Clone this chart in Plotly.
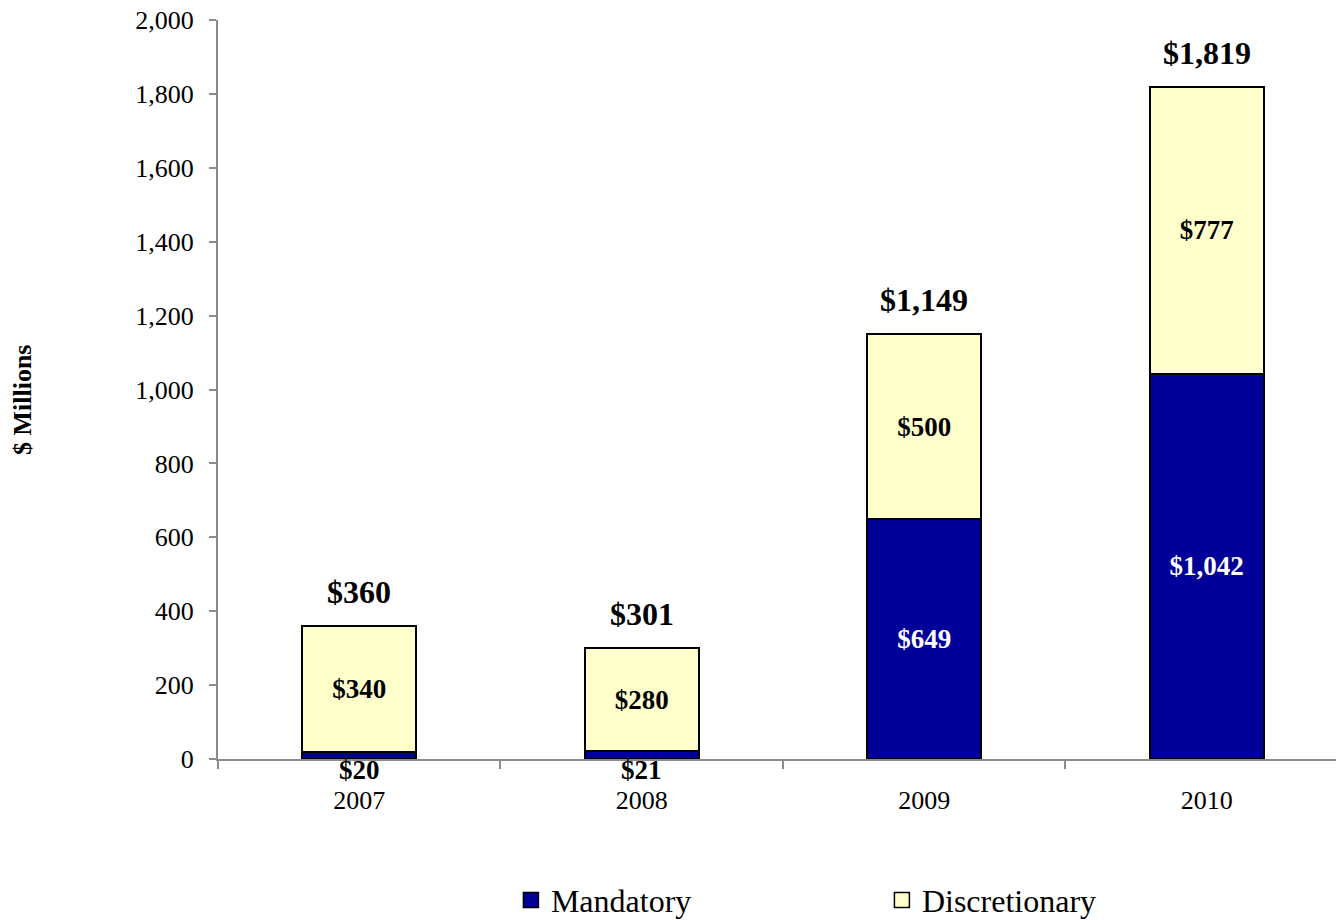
import plotly.graph_objects as go

years = ["2007", "2008", "2009", "2010"]
mandatory = [20, 21, 649, 1042]
discretionary = [340, 280, 500, 777]
totals = [360, 301, 1149, 1819]
y_ticks = [0, 200, 400, 600, 800, 1000, 1200, 1400, 1600, 1800, 2000]

FONT = "Liberation Serif, Times New Roman, serif"
NAVY = "#000099"
CREAM = "#FFFFCC"

def money(v):
    return "$" + format(v, ",")

fig = go.Figure()

fig.add_trace(go.Bar(
    name="Mandatory", x=years, y=mandatory, width=0.404, showlegend=False,
    marker=dict(color=NAVY, line=dict(color="black", width=2)),
    text=[money(v) if v > 100 else "" for v in mandatory],
    textposition="inside", insidetextanchor="middle",
    textfont=dict(family=FONT, size=27, color="white"),
    texttemplate="<b>%{text}</b>",
))
fig.add_trace(go.Bar(
    name="Discretionary", x=years, y=discretionary, width=0.404, showlegend=False,
    marker=dict(color=CREAM, line=dict(color="black", width=2)),
    text=[money(v) for v in discretionary],
    textposition="inside", insidetextanchor="middle",
    textfont=dict(family=FONT, size=27, color="black"),
    texttemplate="<b>%{text}</b>",
))

# legend proxies
for nm, col in [("Mandatory", NAVY), ("Discretionary", CREAM)]:
    fig.add_trace(go.Scatter(
        name=nm, x=[None], y=[None], mode="markers",
        marker=dict(symbol="square", size=15, color=col, line=dict(color="black", width=1.5)),
    ))

for i, m in enumerate(mandatory):
    if m <= 100:
        fig.add_annotation(x=i, y=0, yanchor="top", yshift=6, showarrow=False,
                           text="<b>" + money(m) + "</b>",
                           font=dict(family=FONT, size=27, color="black"))

for i, t in enumerate(totals):
    fig.add_annotation(x=i, y=t, yanchor="bottom", yshift=14, showarrow=False,
                       text="<b>" + money(t) + "</b>",
                       font=dict(family=FONT, size=32, color="black"))

fig.add_annotation(xref="paper", yref="paper", x=-0.189, y=0.486, textangle=-90,
                   showarrow=False, text="<b>$ Millions</b>",
                   font=dict(family=FONT, size=26, color="black"))

fig.update_layout(
    barmode="stack",
    width=1336, height=940,
    margin=dict(l=218, r=0, t=20, b=181),
    plot_bgcolor="white", paper_bgcolor="white",
    font=dict(family=FONT, size=26, color="black"),
    showlegend=True,
    legend=dict(orientation="h", x=0.262, xanchor="left", y=-0.191, yanchor="middle",
                font=dict(family=FONT, size=32, color="black"),
                entrywidth=326, entrywidthmode="pixels", itemwidth=30,
                traceorder="normal"),
    xaxis=dict(type="category", range=[-0.5, 3.458], showline=True, linecolor="#8c8c8c",
               linewidth=2, ticks="outside", tickson="boundaries", ticklen=8,
               tickcolor="#8c8c8c", tickwidth=2, ticklabelstandoff=17, showgrid=False,
               automargin=False, tickfont=dict(family=FONT, size=26)),
    yaxis=dict(range=[0, 2000], tickvals=y_ticks, tickformat=",", showline=True,
               linecolor="#8c8c8c", linewidth=2, ticks="outside", ticklen=7,
               tickcolor="#8c8c8c", tickwidth=2, showgrid=False, zeroline=False,
               automargin=False, ticklabeloverflow="allow",
               ticklabelstandoff=10, tickfont=dict(family=FONT, size=26)),
)

fig.write_html("out.html", config={"displayModeBar": False},
               post_script="document.body.style.margin='0';")
